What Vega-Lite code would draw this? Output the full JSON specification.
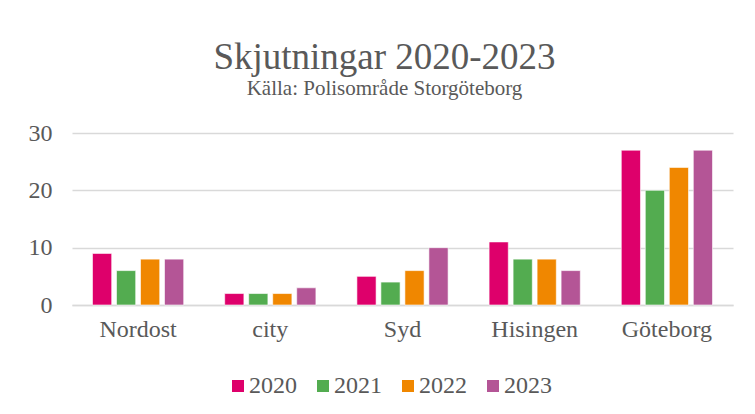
{
  "$schema": "https://vega.github.io/schema/vega-lite/v6.json",
  "width": 661,
  "height": 172,
  "autosize": {"type": "none"},
  "padding": {"left": 72, "top": 133, "right": 22, "bottom": 109},
  "background": "white",
  "title": {
    "text": "Skjutningar 2020-2023",
    "subtitle": "Källa: Polisområde Storgöteborg",
    "font": "Liberation Serif",
    "subtitleFont": "Liberation Serif",
    "fontSize": 37,
    "subtitleFontSize": 21,
    "fontWeight": "normal",
    "color": "#595959",
    "subtitleColor": "#595959",
    "subtitlePadding": 1,
    "offset": 21,
    "dx": -18,
    "anchor": "middle"
  },
  "data": {
    "values": [
      {"omrade": "Nordost", "ar": "2020", "antal": 9},
      {"omrade": "Nordost", "ar": "2021", "antal": 6},
      {"omrade": "Nordost", "ar": "2022", "antal": 8},
      {"omrade": "Nordost", "ar": "2023", "antal": 8},
      {"omrade": "city", "ar": "2020", "antal": 2},
      {"omrade": "city", "ar": "2021", "antal": 2},
      {"omrade": "city", "ar": "2022", "antal": 2},
      {"omrade": "city", "ar": "2023", "antal": 3},
      {"omrade": "Syd", "ar": "2020", "antal": 5},
      {"omrade": "Syd", "ar": "2021", "antal": 4},
      {"omrade": "Syd", "ar": "2022", "antal": 6},
      {"omrade": "Syd", "ar": "2023", "antal": 10},
      {"omrade": "Hisingen", "ar": "2020", "antal": 11},
      {"omrade": "Hisingen", "ar": "2021", "antal": 8},
      {"omrade": "Hisingen", "ar": "2022", "antal": 8},
      {"omrade": "Hisingen", "ar": "2023", "antal": 6},
      {"omrade": "Göteborg", "ar": "2020", "antal": 27},
      {"omrade": "Göteborg", "ar": "2021", "antal": 20},
      {"omrade": "Göteborg", "ar": "2022", "antal": 24},
      {"omrade": "Göteborg", "ar": "2023", "antal": 27}
    ]
  },
  "mark": {"type": "bar", "stroke": "white", "strokeWidth": 0.6},
  "encoding": {
    "x": {
      "field": "omrade",
      "type": "nominal",
      "sort": ["Nordost", "city", "Syd", "Hisingen", "Göteborg"],
      "scale": {"paddingInner": 0.31, "paddingOuter": 0.155},
      "axis": {
        "title": null,
        "labelAngle": 0,
        "labelFont": "Liberation Serif",
        "labelFontSize": 24,
        "labelColor": "#595959",
        "labelPadding": 12,
        "ticks": false,
        "domain": true,
        "domainColor": "#D9D9D9",
        "domainWidth": 1.5
      }
    },
    "xOffset": {
      "field": "ar",
      "type": "nominal",
      "scale": {"paddingInner": 0.2, "paddingOuter": 0}
    },
    "y": {
      "field": "antal",
      "type": "quantitative",
      "scale": {"domain": [0, 30]},
      "axis": {
        "title": null,
        "values": [0, 10, 20, 30],
        "labelFont": "Liberation Serif",
        "labelFontSize": 24,
        "labelColor": "#595959",
        "labelPadding": 20,
        "ticks": false,
        "domain": false,
        "gridColor": "#D9D9D9",
        "gridWidth": 1.5
      }
    },
    "color": {
      "field": "ar",
      "type": "nominal",
      "scale": {
        "domain": ["2020", "2021", "2022", "2023"],
        "range": ["#DE006B", "#53AC50", "#F08700", "#B45596"]
      },
      "legend": {
        "title": null,
        "orient": "none",
        "legendX": 154,
        "legendY": 241,
        "direction": "horizontal",
        "symbolType": "square",
        "symbolSize": 144,
        "symbolStrokeWidth": 0,
        "labelFont": "Liberation Serif",
        "labelFontSize": 24,
        "labelColor": "#595959",
        "labelOffset": -1,
        "columnPadding": 14
      }
    }
  },
  "config": {
    "font": "Liberation Serif",
    "view": {"stroke": null},
    "legend": {"labelFont": "Liberation Serif"},
    "axis": {"labelFont": "Liberation Serif"}
  }
}
